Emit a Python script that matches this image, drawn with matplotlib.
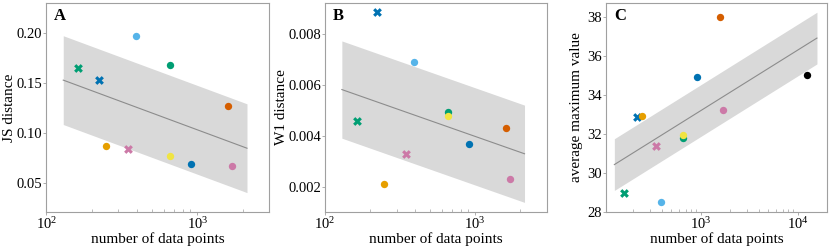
import numpy as np
import matplotlib
matplotlib.use("Agg")
import matplotlib.pyplot as plt

plt.rcParams['font.family'] = ['Liberation Serif', 'DejaVu Serif']
plt.rcParams['mathtext.fontset'] = 'custom'
plt.rcParams['mathtext.rm'] = 'Liberation Serif'
plt.rcParams['mathtext.it'] = 'Liberation Serif:italic'
plt.rcParams['mathtext.bf'] = 'Liberation Serif:bold'

# data: dataset sizes (shared), one entry per dataset
sizes = [163, 222, 248, 349, 394, 662, 662, 914, 1596, 1695]
colors = ['#009E73', '#0072B2', '#E69F00', '#CC79A7', '#56B4E9',
          '#009E73', '#F0E442', '#0072B2', '#D55E00', '#CC79A7']
markers = ['X', 'X', 'o', 'X', 'o', 'o', 'o', 'o', 'o', 'o']

js_dist = [0.165, 0.1526, 0.0865, 0.0835, 0.1967, 0.1676, 0.0764, 0.069, 0.1268, 0.067]
w1_dist = [0.0046, 0.00884, 0.00212, 0.0033, 0.00689, 0.00493, 0.0048, 0.00369, 0.0043, 0.00231]

sizes_c = sizes + [12540]
colors_c = colors + ['#000000']
markers_c = markers + ['o']
avg_max = [28.96, 32.88, 32.93, 31.37, 28.48, 31.79, 31.97, 34.93, 38.03, 33.22, 35.02]

# half-widths of the shaded bands
band_half = [0.0445, 0.0019, 1.33]

panels = [
    dict(label='A', x=sizes, y=js_dist, c=colors, m=markers, ylabel='JS distance',
         xlim=(100, 3000), ylim=(0.0203, 0.2304), yticks=[0.05, 0.10, 0.15, 0.20],
         yfmt='{:.2f}', xticks=[100, 1000], ylx=-0.137),
    dict(label='B', x=sizes, y=w1_dist, c=colors, m=markers, ylabel='W1 distance',
         xlim=(100, 3000), ylim=(0.00102, 0.00921), yticks=[0.002, 0.004, 0.006, 0.008],
         yfmt='{:.3f}', xticks=[100, 1000], ylx=-0.168),
    dict(label='C', x=sizes_c, y=avg_max, c=colors_c, m=markers_c, ylabel='average maximum value',
         xlim=(107, 20200), ylim=(27.97, 38.75), yticks=[28, 30, 32, 34, 36, 38],
         yfmt='{:.0f}', xticks=[1000, 10000], ylx=-0.105),
]

positions = [[0.0558, 0.1405, 0.2687, 0.8486],
             [0.3916, 0.1405, 0.2671, 0.8486],
             [0.7305, 0.1405, 0.2663, 0.8486]]

fig = plt.figure(figsize=(8.3, 2.47), dpi=100)
spine_col = '#a0a0a0'
for p, pos, hw in zip(panels, positions, band_half):
    ax = fig.add_axes(pos)
    x = np.array(p['x'], dtype=float)
    y = np.array(p['y'], dtype=float)
    lx = np.log10(x)
    slope, icpt = np.polyfit(lx, y, 1)
    xx = np.linspace(lx.min() - 0.1, lx.max() + 0.1, 50)
    yy = slope * xx + icpt
    ax.fill_between(10 ** xx, yy - hw, yy + hw, color='#d9d9d9', lw=0, zorder=1)
    ax.plot(10 ** xx, yy, color='#8c8c8c', lw=0.8, zorder=2)
    for xi, yi, ci, mi in zip(x, y, p['c'], p['m']):
        ax.scatter([xi], [yi], color=ci, marker=mi, s=28 if mi == 'o' else 40,
                   linewidths=0, zorder=3)
    ax.set_xscale('log')
    ax.set_xlim(*p['xlim'])
    ax.set_ylim(*p['ylim'])
    ax.set_yticks(p['yticks'])
    ax.set_yticklabels([p['yfmt'].format(v) for v in p['yticks']])
    ax.set_xticks(p['xticks'])
    ax.set_xticklabels([r'$10^{%d}$' % int(round(np.log10(v))) for v in p['xticks']])
    ax.tick_params(axis='both', which='major', labelsize=10.5, length=2,
                   width=0.6, color=spine_col, pad=1.0)
    ax.tick_params(axis='x', which='minor', direction='in', length=2, width=0.5,
                   color=spine_col)
    for s in ax.spines.values():
        s.set_color(spine_col)
        s.set_linewidth(0.8)
    ax.set_xlabel('number of data points', fontsize=11)
    ax.xaxis.set_label_coords(0.5, -0.094)
    ax.set_ylabel(p['ylabel'], fontsize=11)
    ax.yaxis.set_label_coords(p['ylx'], 0.5)
    ax.text(0.035, 0.975, p['label'], transform=ax.transAxes, ha='left', va='top',
            fontsize=12, fontweight='bold')

fig.savefig('out.png', dpi=100)
